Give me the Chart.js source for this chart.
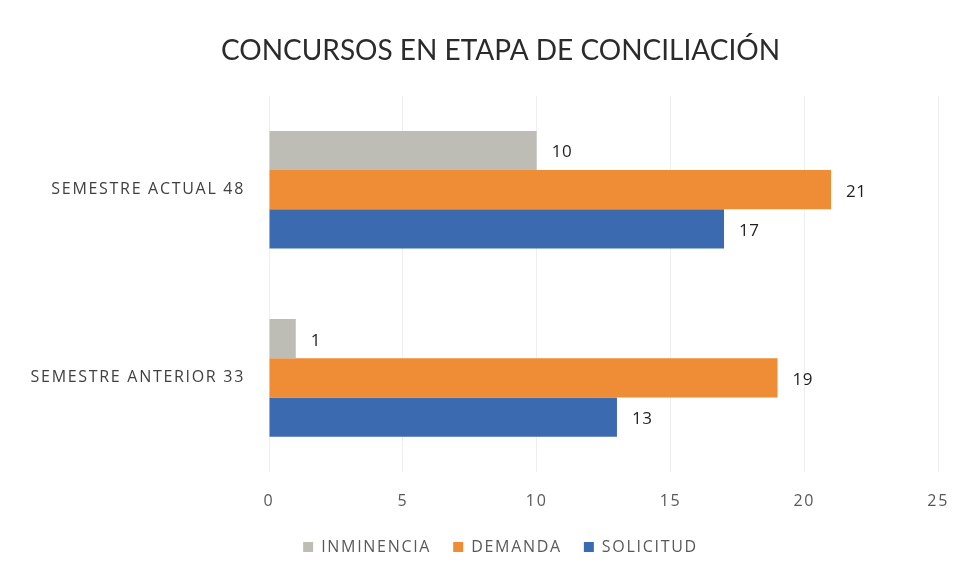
<!DOCTYPE html>
<html><head><meta charset="utf-8">
<script src="https://cdn.jsdelivr.net/npm/chart.js@4/dist/chart.umd.min.js"></script>
<style>html,body{margin:0;padding:0;background:#fff}#wrap{width:969px;height:574px}</style>
</head><body><div id="wrap"><canvas id="c" width="969" height="574"></canvas></div>
<script>
const categories = ["SEMESTRE ACTUAL 48", "SEMESTRE ANTERIOR 33"];
const seriesNames = ["INMINENCIA", "DEMANDA", "SOLICITUD"];
const inminencia = [10, 1];
const demanda = [21, 19];
const solicitud = [17, 13];
const xTicks = [0, 5, 10, 15, 20, 25];
const titleText = "CONCURSOS EN ETAPA DE CONCILIACIÓN";

const FONT = "Lato, 'Open Sans', sans-serif";
const FONT2 = "'Open Sans', Lato, sans-serif";
const SPACING = '1.7px';

const spacingPlugin = {
  id: 'spacing',
  beforeLayout(chart) { chart.ctx.letterSpacing = SPACING; },
  beforeDraw(chart) { chart.ctx.letterSpacing = SPACING; },
  afterLayout(chart) {
    // let long category labels extend left of the axis box (avoid clipping)
    if (chart.scales.y) chart.scales.y.left = 0;
    const tb = chart.titleBlock;
    if (tb && !tb._patched) {
      const orig = tb.draw;
      tb.draw = function (...args) {
        const c = this.ctx;
        c.save(); c.letterSpacing = '0px';
        orig.apply(this, args);
        c.restore();
      };
      tb._patched = true;
    }
  }
};

const valueLabels = {
  id: 'valueLabels',
  afterDatasetsDraw(chart) {
    const ctx = chart.ctx;
    ctx.save();
    ctx.letterSpacing = '0.5px';
    ctx.font = "17px " + FONT2;
    ctx.fillStyle = "#1f1f1f";
    ctx.textAlign = "left";
    ctx.textBaseline = "middle";
    chart.data.datasets.forEach((ds, i) => {
      chart.getDatasetMeta(i).data.forEach((bar, j) => {
        ctx.fillText(String(ds.data[j]), bar.x + 15, bar.y + 2);
      });
    });
    ctx.restore();
  }
};

new Chart(document.getElementById('c'), {
  type: 'bar',
  data: {
    labels: categories,
    datasets: [
      { label: seriesNames[0], data: inminencia, backgroundColor: '#BDBDB6' },
      { label: seriesNames[1], data: demanda, backgroundColor: '#EE8D35' },
      { label: seriesNames[2], data: solicitud, backgroundColor: '#3C6AB0' }
    ]
  },
  options: {
    indexAxis: 'y',
    responsive: false,
    animation: false,
    layout: { padding: { left: 52, right: 20, top: 0, bottom: 9 } },
    datasets: { bar: { categoryPercentage: 0.625, barPercentage: 1.0 } },
    plugins: {
      title: {
        display: true, text: titleText, color: '#2b2b2b',
        font: { family: FONT, size: 28, weight: 'normal' },
        padding: { top: 34, bottom: 28 }
      },
      legend: {
        position: 'bottom',
        labels: {
          color: '#595959', font: { family: FONT2, size: 16 },
          boxWidth: 10, boxHeight: 10, padding: 22
        }
      },
      tooltip: { enabled: false }
    },
    scales: {
      x: {
        min: 0, max: 25,
        afterBuildTicks(s) { s.ticks = xTicks.map(v => ({ value: v })); },
        afterFit(s) { s.height = 45; },
        grid: { color: '#eeeeee', drawTicks: false },
        border: { display: false },
        ticks: { color: '#595959', font: { family: FONT2, size: 16 }, padding: 20 }
      },
      y: {
        afterFit(s) { s.width = 217; },
        grid: { display: false, drawTicks: false },
        border: { display: false },
        ticks: { color: '#404040', font: { family: FONT2, size: 16 }, padding: 24 }
      }
    }
  },
  plugins: [spacingPlugin, valueLabels]
});
</script></body></html>
